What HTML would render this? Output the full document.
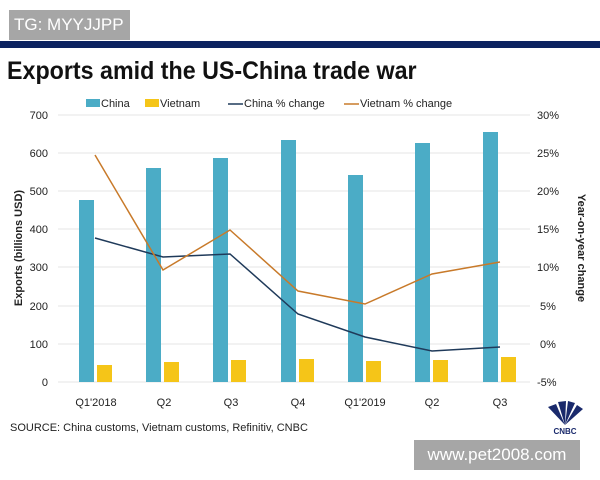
<!DOCTYPE html>
<html><head><style>
body{margin:0;width:600px;height:480px;background:#fff;overflow:hidden;font-family:"Liberation Sans",sans-serif;position:relative}
.a{position:absolute}
</style></head><body>
<div class="a" style="left:9px;top:10px;width:121px;height:30px;background:#a6a6a6;color:#fff;font-size:17px;line-height:30px;padding-left:5px;box-sizing:border-box">TG: MYYJJPP</div>
<div class="a" style="left:0;top:41px;width:600px;height:7px;background:#0b2260"></div>
<div class="a" style="left:7px;top:57px;font-size:25px;font-weight:bold;color:#111;transform:scaleX(0.93);transform-origin:0 0;white-space:nowrap">Exports amid the US-China trade war</div>
<svg class="a" style="left:0;top:0" width="600" height="480" font-family="Liberation Sans, sans-serif">
<g font-size="11" fill="#222">
<rect x="86" y="99" width="14" height="8" fill="#4bacc6"/><text x="101" y="107">China</text>
<rect x="145" y="99" width="14" height="8" fill="#f5c518"/><text x="160" y="107">Vietnam</text>
<line x1="228" y1="104" x2="243" y2="104" stroke="#1f3a5a" stroke-width="1.5"/><text x="244" y="107">China % change</text>
<line x1="344" y1="104" x2="359" y2="104" stroke="#c87a2a" stroke-width="1.5"/><text x="360" y="107">Vietnam % change</text>
</g>
<g stroke="#e6e6e6" stroke-width="1">
<line x1="58" y1="115" x2="530" y2="115"/><line x1="58" y1="153" x2="530" y2="153"/><line x1="58" y1="191" x2="530" y2="191"/><line x1="58" y1="229" x2="530" y2="229"/><line x1="58" y1="267" x2="530" y2="267"/><line x1="58" y1="306" x2="530" y2="306"/><line x1="58" y1="344" x2="530" y2="344"/><line x1="58" y1="382" x2="530" y2="382"/>
</g>
<g font-size="11" fill="#222" text-anchor="end">
<text x="48" y="119">700</text><text x="48" y="157">600</text><text x="48" y="195">500</text><text x="48" y="233">400</text><text x="48" y="271">300</text><text x="48" y="310">200</text><text x="48" y="348">100</text><text x="48" y="386">0</text>
</g>
<g font-size="11" fill="#222">
<text x="537" y="119">30%</text><text x="537" y="157">25%</text><text x="537" y="195">20%</text><text x="537" y="233">15%</text><text x="537" y="271">10%</text><text x="540" y="310">5%</text><text x="540" y="348">0%</text><text x="537" y="386">-5%</text>
</g>
<text transform="translate(22,248) rotate(-90)" font-size="11" font-weight="bold" text-anchor="middle" fill="#222">Exports (billions USD)</text>
<text transform="translate(578,248) rotate(90)" font-size="11" font-weight="bold" text-anchor="middle" fill="#222">Year-on-year change</text>
<g fill="#4bacc6">
<rect x="79" y="200" width="15" height="182"/><rect x="146" y="168" width="15" height="214"/><rect x="213" y="158" width="15" height="224"/><rect x="281" y="140" width="15" height="242"/><rect x="348" y="175" width="15" height="207"/><rect x="415" y="143" width="15" height="239"/><rect x="483" y="132" width="15" height="250"/>
</g>
<g fill="#f5c518">
<rect x="97" y="365" width="15" height="17"/><rect x="164" y="362" width="15" height="20"/><rect x="231" y="360" width="15" height="22"/><rect x="299" y="359" width="15" height="23"/><rect x="366" y="361" width="15" height="21"/><rect x="433" y="360" width="15" height="22"/><rect x="501" y="357" width="15" height="25"/>
</g>
<polyline fill="none" stroke="#1f3a5a" stroke-width="1.5" points="95,238 163,257 230,254 298,314 365,337 432,351 500,347"/>
<polyline fill="none" stroke="#c87a2a" stroke-width="1.5" points="95,155 163,270 230,230 298,291 365,304 432,274 500,262"/>
<g font-size="11" fill="#222" text-anchor="middle">
<text x="96" y="406">Q1'2018</text><text x="164" y="406">Q2</text><text x="231" y="406">Q3</text><text x="298" y="406">Q4</text><text x="365" y="406">Q1'2019</text><text x="432" y="406">Q2</text><text x="500" y="406">Q3</text>
</g>
<text x="10" y="431" font-size="11" fill="#222">SOURCE: China customs, Vietnam customs, Refinitiv, CNBC</text>
<g fill="#1a2a6c">
<path d="M565,425 L548,407 L556,404 Z"/><path d="M565,425 L558,402 L566,401 Z"/><path d="M565,425 L568,401 L575,403 Z"/><path d="M565,425 L577,405 L583,409 Z"/>
<text x="565" y="434" font-size="8" font-weight="bold" text-anchor="middle">CNBC</text>
</g>
</svg>
<div class="a" style="left:414px;top:440px;width:166px;height:30px;background:#a6a6a6;color:#fff;font-size:17px;line-height:30px;text-align:center">www.pet2008.com</div>
</body></html>
